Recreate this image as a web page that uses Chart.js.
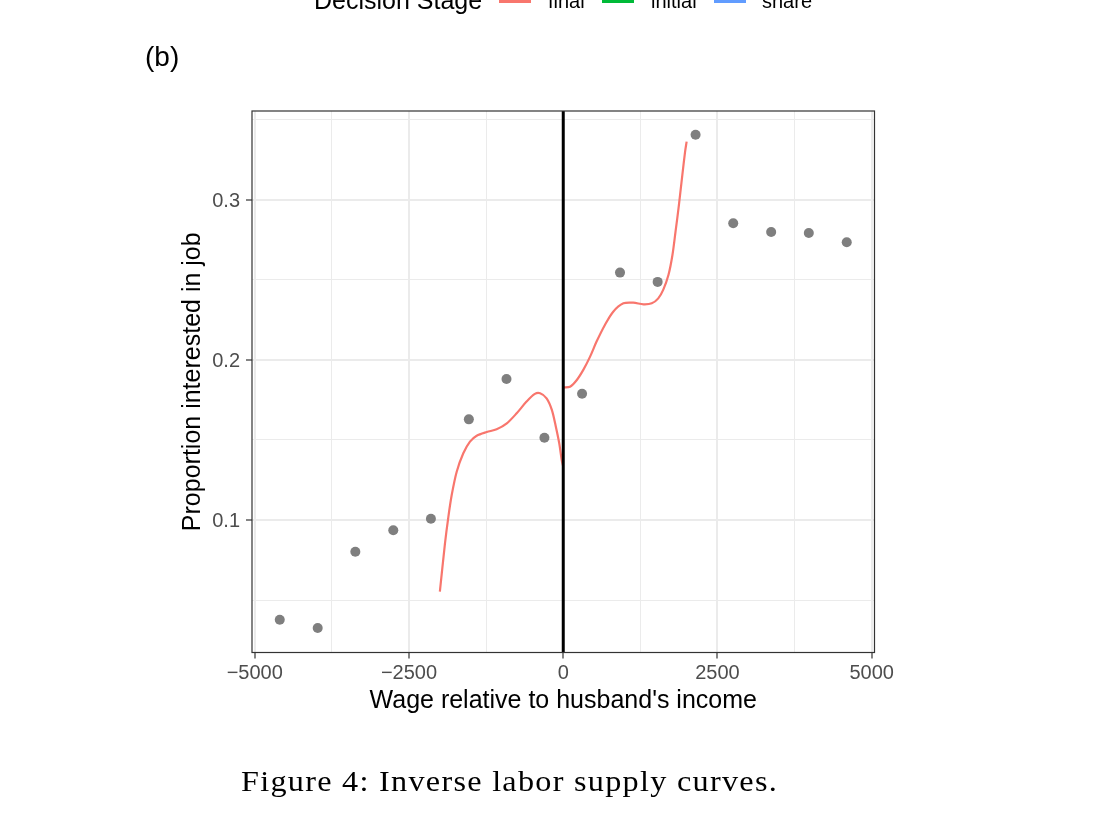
<!DOCTYPE html>
<html>
<head>
<meta charset="utf-8">
<title>Inverse labor supply curves</title>
<script src="https://cdn.jsdelivr.net/npm/chart.js@4"></script>
<style>
    html, body { margin: 0; padding: 0; background: #fff; }
    #page { position: relative; width: 1105px; height: 825px; overflow: hidden; font-family: 'Liberation Sans', Arial, sans-serif; }
    #chart-box { position: absolute; left: 0; top: 0; width: 1105px; height: 825px; }
    .txt { position: absolute; white-space: nowrap; color: #000; }
    .legend-title { font-size: 25px; line-height: 25px; top: -12px; }
    .legend-label { font-size: 20px; line-height: 20px; top: -9px; }
    .legend-key { position: absolute; top: 0; width: 32px; height: 2.5px; }
    .tag { font-size: 28px; line-height: 28px; left: 145px; top: 43px; }
    .caption { font-family: 'Liberation Serif', 'Times New Roman', serif; font-size: 30px; line-height: 30px; letter-spacing: 1.2px; left: 241px; top: 766px; transform: scaleX(1.073); transform-origin: left top; }
</style>
</head>
<body>
<div id="page">
    <div id="chart-box"><canvas id="supply-chart" width="1105" height="825"></canvas></div>

    <!-- legend (cut off at the top edge, as in the figure) -->
    <div class="txt legend-title" style="left:314px">Decision Stage</div>
    <span class="legend-key" style="left:499px;background:#F8766D"></span>
    <div class="txt legend-label" style="left:548px">final</div>
    <span class="legend-key" style="left:602px;background:#00BA38"></span>
    <div class="txt legend-label" style="left:651px">initial</div>
    <span class="legend-key" style="left:714px;background:#619CFF"></span>
    <div class="txt legend-label" style="left:762px">share</div>

    <div class="txt tag">(b)</div>
    <div class="txt caption">Figure 4: Inverse labor supply curves.</div>
</div>

<script>
// ========== 数据 ==========

// 分箱后的工资差（相对丈夫收入）与感兴趣比例
const wageBins = [-4595, -3980, -3370, -2755, -2145, -1530, -920, -305, 305, 920, 1530, 2145, 2755, 3370, 3980, 4595];
const shareInterested = [0.0377, 0.0325, 0.0802, 0.0936, 0.1008, 0.1629, 0.1881, 0.1514, 0.1789, 0.2546, 0.2488, 0.3408, 0.2854, 0.2800, 0.2794, 0.2736];

// final 阶段拟合曲线（0 左侧）
const finalLeftX = [-2000, -1917, -1862, -1808, -1727, -1620, -1512, -1403, -1240, -1080, -915, -755, -595, -460, -375, -270, -185, -120, -65, -25, -5];
const finalLeftY = [0.0552, 0.0854, 0.102, 0.1156, 0.1302, 0.1417, 0.149, 0.1527, 0.155, 0.1567, 0.1604, 0.1667, 0.174, 0.1788, 0.1792, 0.176, 0.1688, 0.1583, 0.1479, 0.1375, 0.134];

// final 阶段拟合曲线（0 右侧）
const finalRightX = [0, 110, 220, 325, 435, 540, 675, 810, 975, 1135, 1300, 1435, 1540, 1620, 1705, 1770, 1820, 1875, 1930, 1975, 2000];
const finalRightY = [0.1829, 0.1833, 0.1875, 0.1938, 0.2021, 0.2115, 0.2219, 0.2302, 0.2354, 0.2358, 0.2348, 0.2354, 0.2385, 0.2438, 0.2531, 0.2656, 0.2802, 0.2969, 0.3156, 0.3302, 0.3365];

// 竖线位置
const cutoffX = 0;

// 坐标轴范围与刻度
const xMin = -5045;
const xMax = 5045;
const xTicks = [-5000, -3750, -2500, -1250, 0, 1250, 2500, 3750, 5000];
const xMajorTicks = [-5000, -2500, 0, 2500, 5000];
const yMin = 0.0172;
const yMax = 0.3556;
const yTicks = [0.05, 0.1, 0.15, 0.2, 0.25, 0.3, 0.35];
const yMajorTicks = [0.1, 0.2, 0.3];

// ========== 绘图 ==========

Chart.defaults.font.family = "'Liberation Sans', Arial, sans-serif";

const GRID = '#EBEBEB';
const DARK = '#333333';

function isMajor(list, v) {
    return list.some(m => Math.abs(m - v) < 1e-9);
}

function toPoints(xs, ys) {
    return xs.map((x, i) => ({ x: x, y: ys[i] }));
}

function formatWage(v) {
    return v < 0 ? '\u2212' + Math.abs(v) : String(v);
}

// theme_bw 的面板边框
const panelBorder = {
    id: 'panelBorder',
    afterDatasetsDraw(chart) {
        const a = chart.chartArea;
        const ctx = chart.ctx;
        ctx.save();
        ctx.strokeStyle = DARK;
        ctx.lineWidth = 1.2;
        ctx.strokeRect(a.left, a.top, a.right - a.left, a.bottom - a.top);
        ctx.restore();
    }
};

const supplyChart = new Chart(document.getElementById('supply-chart'), {
    type: 'scatter',
    data: {
        datasets: [
            {
                label: 'cutoff',
                type: 'line',
                data: [{ x: cutoffX, y: yMin }, { x: cutoffX, y: yMax }],
                borderColor: '#000000',
                borderWidth: 3,
                pointRadius: 0,
                order: 0
            },
            {
                label: 'final',
                type: 'line',
                data: toPoints(finalLeftX, finalLeftY),
                borderColor: '#F8766D',
                borderWidth: 2.2,
                pointRadius: 0,
                tension: 0.3,
                order: 1
            },
            {
                label: 'final',
                type: 'line',
                data: toPoints(finalRightX, finalRightY),
                borderColor: '#F8766D',
                borderWidth: 2.2,
                pointRadius: 0,
                tension: 0.3,
                order: 1
            },
            {
                label: 'share',
                data: toPoints(wageBins, shareInterested),
                backgroundColor: '#7F7F7F',
                borderWidth: 0,
                pointRadius: 5,
                order: 2
            }
        ]
    },
    options: {
        responsive: false,
        animation: false,
        devicePixelRatio: 1,
        layout: {
            padding: { left: 0, top: 111, right: 230.5, bottom: 100 }
        },
        plugins: {
            legend: { display: false },
            tooltip: { enabled: false }
        },
        scales: {
            x: {
                type: 'linear',
                min: xMin,
                max: xMax,
                afterBuildTicks: scale => { scale.ticks = xTicks.map(v => ({ value: v })); },
                afterFit: scale => { scale.height = 72.5; },
                border: { display: false },
                grid: {
                    color: GRID,
                    lineWidth: c => isMajor(xMajorTicks, c.tick.value) ? 2 : 1,
                    tickLength: 6,
                    tickColor: c => isMajor(xMajorTicks, c.tick.value) ? DARK : 'rgba(0,0,0,0)',
                    tickWidth: 1.2
                },
                ticks: {
                    autoSkip: false,
                    maxRotation: 0,
                    padding: 3,
                    color: '#4D4D4D',
                    font: { size: 20 },
                    callback: v => isMajor(xMajorTicks, v) ? formatWage(v) : ''
                },
                title: {
                    display: true,
                    text: "Wage relative to husband's income",
                    color: '#000',
                    font: { size: 25 },
                    padding: { top: 0, bottom: 9 }
                }
            },
            y: {
                type: 'linear',
                min: yMin,
                max: yMax,
                afterBuildTicks: scale => { scale.ticks = yTicks.map(v => ({ value: v })); },
                afterFit: scale => { scale.width = 252; },
                border: { display: false },
                grid: {
                    color: GRID,
                    lineWidth: c => isMajor(yMajorTicks, c.tick.value) ? 2 : 1,
                    tickLength: 6,
                    tickColor: c => isMajor(yMajorTicks, c.tick.value) ? DARK : 'rgba(0,0,0,0)',
                    tickWidth: 1.2
                },
                ticks: {
                    autoSkip: false,
                    padding: 6,
                    labelOffset: 1.5,
                    color: '#4D4D4D',
                    font: { size: 20 },
                    callback: v => isMajor(yMajorTicks, v) ? v.toFixed(1) : ''
                },
                title: {
                    display: true,
                    text: 'Proportion interested in job',
                    color: '#000',
                    font: { size: 25 },
                    padding: { top: 178, bottom: 0 }
                }
            }
        }
    },
    plugins: [panelBorder]
});
</script>
</body>
</html>
